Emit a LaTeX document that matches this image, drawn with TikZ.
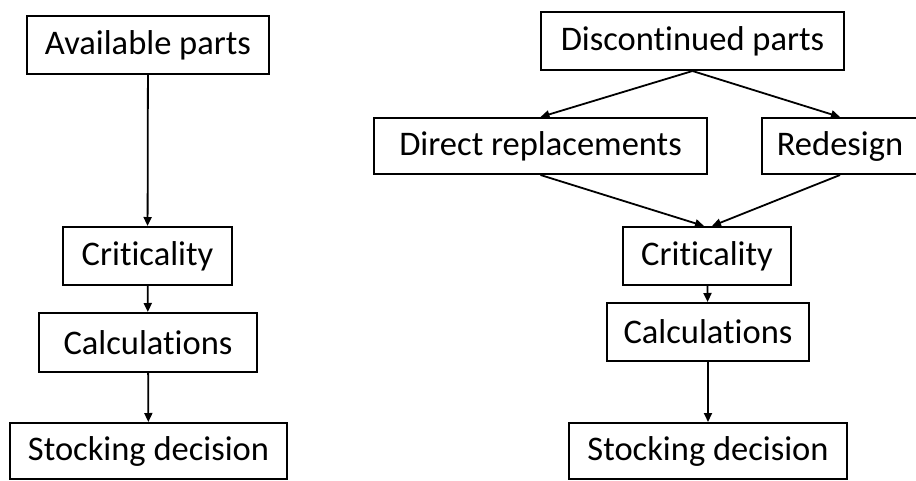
\documentclass[tikz,border=0pt]{standalone}
\usepackage{fontspec}
\setmainfont{Carlito}[Ligatures={NoCommon}]
\usepackage{tikz}
\usetikzlibrary{arrows.meta}

\tikzset{
  box/.style={draw, line width=2pt, inner sep=0pt, minimum height=58pt,
    font=\fontsize{34.5}{40}\selectfont},
  flow/.style={line width=1.8pt, -{Triangle[length=9pt,width=8pt]}}
}

\begin{document}
\begin{tikzpicture}[x=1pt,y=-1pt]
\useasboundingbox (0,0) rectangle (916,480);
\clip (0,0) rectangle (916,480);

% available parts
\node[box, minimum width=242pt] (avail) at (148,45) {Available parts};
\node[box, minimum width=169pt] (critL) at (147.5,256) {Criticality};
\node[box, minimum width=218pt, minimum height=59pt] (calcL) at (148,342.5) {Calculations};
\node[box, minimum width=277pt, minimum height=56pt] (stockL) at (148.5,451) {Stocking decision};

\draw[flow] (avail) -- (critL);
\draw[flow] (critL) -- (calcL);
\draw[flow] (calcL) -- (stockL);

% discontinued parts
\node[box, minimum width=303pt] (disc) at (692.5,41) {Discontinued parts};
\node[box, minimum width=333pt, minimum height=56pt] (direct) at (540.5,146) {Direct replacements};
\node[box, minimum width=156pt, minimum height=56pt] (redes) at (840,146) {Redesign};
\node[box, minimum width=168pt] (critR) at (707,256) {Criticality};
\node[box, minimum width=202pt] (calcR) at (708,332) {Calculations};
\node[box, minimum width=278pt, minimum height=56pt] (stockR) at (708,451) {Stocking decision};

\draw[flow] (disc.south) -- (direct.north);
\draw[flow] (disc.south) -- (redes.north);
\draw[flow] (direct.south) -- ([xshift=-3pt]critR.north);
\draw[flow] (redes.south) -- ([xshift=5pt]critR.north);
\draw[flow] (critR) -- (calcR);
\draw[flow] (calcR) -- (stockR);

\end{tikzpicture}
\end{document}
